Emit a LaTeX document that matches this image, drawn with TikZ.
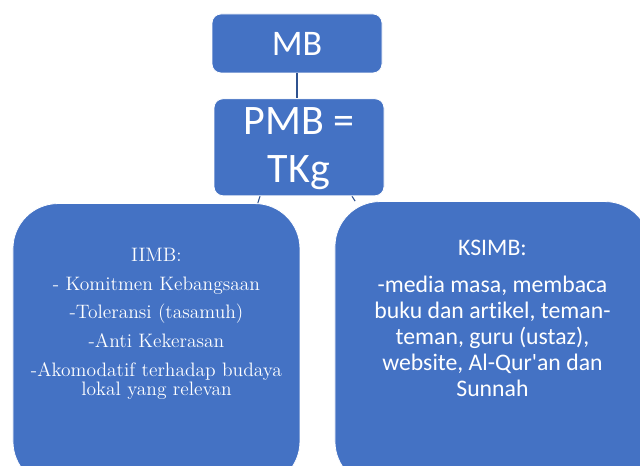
\documentclass[tikz,border=0pt]{standalone}
\usepackage{fontspec}
\setsansfont[Ligatures={TeX,NoCommon}]{Carlito}
\usepackage{tikz}
\usetikzlibrary{shapes, positioning, backgrounds}
\definecolor{boxblue}{HTML}{4472C4}
\definecolor{lineblue}{HTML}{2F528F}
\tikzstyle{block} = [rectangle, draw=white, line width=0.6pt, fill=boxblue, text=white,
    font=\sffamily\fontsize{27}{36}\selectfont, align=center, rounded corners=6.75pt,
    minimum width=127.5pt]
\tikzstyle{bigblock} = [rectangle, draw=white, line width=0.6pt, fill=boxblue, rounded corners=33.75pt]
\tikzstyle{bodytext} = [text=white, align=center, inner sep=0pt]
\tikzstyle{line} = [draw, lineblue, line width=1.5pt]

\begin{document}
\begin{tikzpicture}[node distance = 18.75pt, auto]
      \useasboundingbox (0,0) rectangle (480pt,-349.5pt);
      \clip (0,0) rectangle (480pt,-349.5pt);
      % top boxes
      \node [block, minimum height=44.25pt] (mb) at (222.75pt,-32.6pt) {MB};
      \node [block, minimum height=72.75pt, below=of mb, xshift=1.5pt,
        font=\sffamily\fontsize{31.5}{36}\selectfont, text depth=3pt] (pmb) {PMB =\\TKg};
      % lower boxes
      \node [bigblock, minimum width=215.25pt, minimum height=212.25pt, below=5.25pt of pmb, xshift=-106.9pt] (iimb) {};
      \node [bigblock, minimum width=236.25pt, minimum height=213.75pt, below=3.75pt of pmb, xshift=145.1pt] (ksimb) {};
      \node [bodytext, font=\rmfamily\fontsize{14.6}{14.4}\selectfont] (iimb-text) at ([yshift=15.9pt]iimb.center)
        {IIMB:\\[7.15pt]- Komitmen Kebangsaan\\[7.15pt]-Toleransi (tasamuh)\\[7.15pt]-Anti Kekerasan\\[7.15pt]-Akomodatif terhadap budaya\\lokal yang relevan};
      \node [bodytext, font=\sffamily\fontsize{17.8}{19.5}\selectfont] (ksimb-text) at ([yshift=19.5pt]ksimb.center)
        {KSIMB:\\[8pt]-media masa, membaca\\buku dan artikel, teman-\\teman, guru (ustaz),\\website, Al-Qur\textquotesingle an dan\\Sunnah};
      % Draw edges
      \path [line] (mb.south) -- (mb.south |- pmb.north);
      \begin{scope}[on background layer]
        \path [line, line width=0.8pt] ([xshift=-29.25pt]pmb.south) -- ([xshift=76pt]iimb.north);
        \path [line, line width=0.8pt] ([xshift=39.75pt]pmb.south) -- ([xshift=-103pt]ksimb.north);
      \end{scope}
  \end{tikzpicture}
\end{document}
